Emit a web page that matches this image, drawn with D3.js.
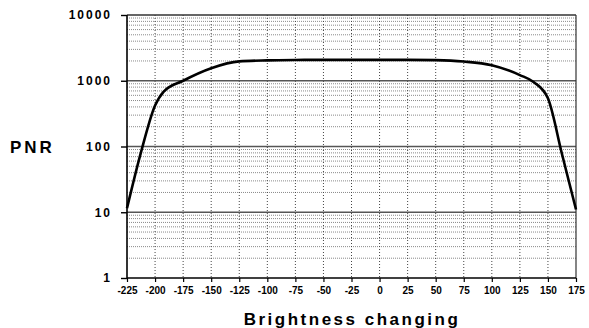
<!DOCTYPE html>
<html>
<head>
<meta charset="utf-8">
<script src="https://cdn.jsdelivr.net/npm/d3@7"></script>
<style>
  html, body { margin: 0; padding: 0; background: #fff; }
  svg { display: block; font-family: "Liberation Sans", Arial, sans-serif; }
</style>
</head>
<body>
<svg id="chart" width="589" height="328"></svg>
<script>
// Brightness change applied to the image
const brightness = [-225, -212.5, -200, -192.5, -175, -150, -125, -100, -75, -50, -25, 0, 25, 50, 75, 100, 125, 137.5, 150, 162.5, 175];
// Resulting PNR
const pnr = [11.5, 82, 420, 680, 1000, 1550, 1970, 2040, 2070, 2080, 2080, 2080, 2080, 2060, 1960, 1720, 1220, 950, 540, 77, 11];

const xTicks = d3.range(-225, 176, 25);
const yTicks = [1, 10, 100, 1000, 10000];

const margin = { left: 127, right: 13, top: 15, bottom: 50 };
const W = 589, H = 328;

const svg = d3.select("#chart");
const x = d3.scaleLinear().domain([-225, 175]).range([margin.left, W - margin.right]);
const y = d3.scaleLog().domain([1, 10000]).range([H - margin.bottom, margin.top]);

const g = svg.append("g");

// minor horizontal grid (2..9 within each decade)
const minor = [];
for (let d = 1; d < 10000; d *= 10) for (let k = 2; k <= 9; k++) minor.push(d * k);
g.append("g").selectAll("line").data(minor).join("line")
  .attr("x1", x(-225)).attr("x2", x(175))
  .attr("y1", d => y(d)).attr("y2", d => y(d))
  .attr("stroke", "#8a8a8a").attr("stroke-width", 1).attr("stroke-dasharray", "1,1");

// vertical dotted grid
g.append("g").selectAll("line").data(xTicks.slice(1, -1)).join("line")
  .attr("x1", d => x(d)).attr("x2", d => x(d))
  .attr("y1", y(10000)).attr("y2", y(1))
  .attr("stroke", "#444").attr("stroke-width", 1).attr("stroke-dasharray", "1,2");

// major horizontal grid
g.append("g").selectAll("line").data([10, 100, 1000]).join("line")
  .attr("x1", x(-225)).attr("x2", x(175))
  .attr("y1", d => y(d)).attr("y2", d => y(d))
  .attr("stroke", "#555").attr("stroke-width", 1.6);

// frame
g.append("line").attr("x1", x(-225)).attr("x2", x(175)).attr("y1", y(10000)).attr("y2", y(10000))
  .attr("stroke", "#333").attr("stroke-width", 1.5);
g.append("line").attr("x1", x(175)).attr("x2", x(175)).attr("y1", y(10000)).attr("y2", y(1))
  .attr("stroke", "#333").attr("stroke-width", 1.2);

// axes
const fmt = d => String(d);
const yAxis = d3.axisLeft(y).tickValues(yTicks).tickFormat(fmt).tickSize(6).tickPadding(9);
const xAxis = d3.axisBottom(x).tickValues(xTicks).tickFormat(fmt).tickSize(4).tickPadding(5);

const ya = svg.append("g").attr("transform", `translate(${x(-225)},0)`).call(yAxis);
ya.select(".domain").attr("stroke", "#000").attr("stroke-width", 1.6).attr("d", `M0,${y(10000)}V${y(1)}`);
ya.selectAll(".tick line").attr("stroke", "#000").attr("stroke-width", 1.4);
ya.selectAll(".tick text").attr("font-size", 12).attr("font-weight", "bold")
  .attr("letter-spacing", "2px").attr("fill", "#000").attr("font-family", "Liberation Sans, Arial, sans-serif");

const xa = svg.append("g").attr("transform", `translate(0,${y(1)})`).call(xAxis);
xa.select(".domain").attr("stroke", "#000").attr("stroke-width", 1.6).attr("d", `M${x(-225)},0H${x(175)}`);
xa.selectAll(".tick line").attr("stroke", "#000").attr("stroke-width", 1.2);
xa.selectAll(".tick text").attr("font-size", 10).attr("font-weight", "bold").attr("fill", "#000")
  .attr("font-family", "Liberation Sans, Arial, sans-serif");

// PNR curve
const pts = brightness.map((b, i) => [b, pnr[i]]);
svg.append("path").datum(pts)
  .attr("fill", "none").attr("stroke", "#000").attr("stroke-width", 2.6).attr("stroke-linejoin", "round")
  .attr("d", d3.line().x(d => x(d[0])).y(d => y(d[1])).curve(d3.curveMonotoneX));

// axis titles
svg.append("text").attr("x", 10).attr("y", 153)
  .attr("font-size", 17).attr("font-weight", "bold").attr("letter-spacing", "3px")
  .text("PNR");
svg.append("text").attr("x", 352).attr("y", 325).attr("text-anchor", "middle")
  .attr("font-size", 17).attr("font-weight", "bold").attr("letter-spacing", "2.5px")
  .text("Brightness changing");
</script>
</body>
</html>
